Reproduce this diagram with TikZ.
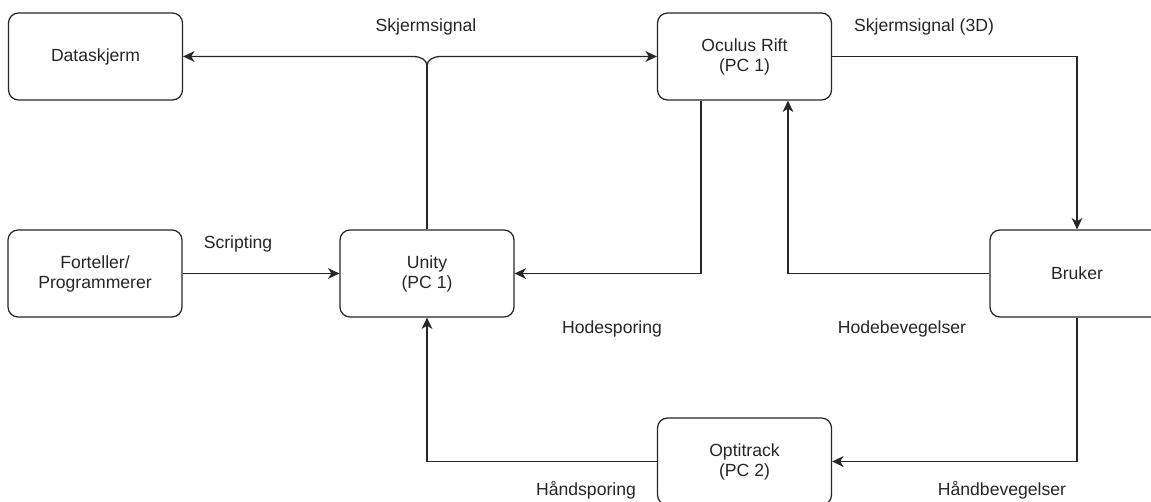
\documentclass[tikz,border=0pt]{standalone}
\usepackage{fontspec}
\setmainfont{Liberation Sans}
\usetikzlibrary{arrows.meta}
\begin{document}
\begin{tikzpicture}[x=0.75pt,y=-0.75pt,
  box/.style={draw=black!85, line width=0.95pt, rounded corners=7.5pt, minimum width=130.5pt, minimum height=65.25pt, align=center, inner sep=0pt, font=\fontsize{13.2}{15}\selectfont, text=black!85},
  lbl/.style={font=\fontsize{13.2}{15}\selectfont, text=black!85, inner sep=0pt},
  conn/.style={draw=black!85, line width=0.95pt},
  arr/.style={conn, -{Stealth[length=8.5pt,width=8pt,inset=2.5pt]}}]
\useasboundingbox (0,0) rectangle (1151,502);
\node[box] (datask) at (95.5,56.5) {Dataskjerm};
\node[box] (oculus) at (744.5,56.5) {Oculus Rift\\(PC 1)};
\node[box] (fort) at (95,273.5) {Forteller/\\Programmerer};
\node[box] (unity) at (427,273.5) {Unity\\(PC 1)};
\node[box] (bruker) at (1077,273.5) {Bruker};
\node[box] (opti) at (744.5,461.5) {Optitrack\\(PC 2)};

\coordinate (split) at (427,66);
\draw[conn] (unity.north) -- (split);
\draw[arr] (split) .. controls (427,60) and (421,56.5) .. (413,56.5) -- (datask.east);
\draw[arr] (split) .. controls (427,60) and (433,56.5) .. (441,56.5) -- (oculus.west);

\draw[arr] (fort.east) -- (unity.west);
\draw[arr] (oculus.east) -| (bruker.north);
\draw[arr] ([xshift=-32.6pt]oculus.south) |- (unity.east);
\draw[arr] (bruker.west) -| ([xshift=32.6pt]oculus.south);
\draw[arr] (bruker.south) |- (opti.east);
\draw[arr] (opti.west) -| (unity.south);

\node[lbl] (l1) at (426,27) {Skjermsignal};
\node[lbl] (l2) at (924,27) {Skjermsignal (3D)};
\node[lbl] (l3) at (238,244) {Scripting};
\node[lbl] (l4) at (612,329) {Hodesporing};
\node[lbl] (l5) at (902,329) {Hodebevegelser};
\node[lbl] (l6) at (586,490) {Håndsporing};
\node[lbl] (l7) at (1002,490) {Håndbevegelser};
\end{tikzpicture}
\end{document}
